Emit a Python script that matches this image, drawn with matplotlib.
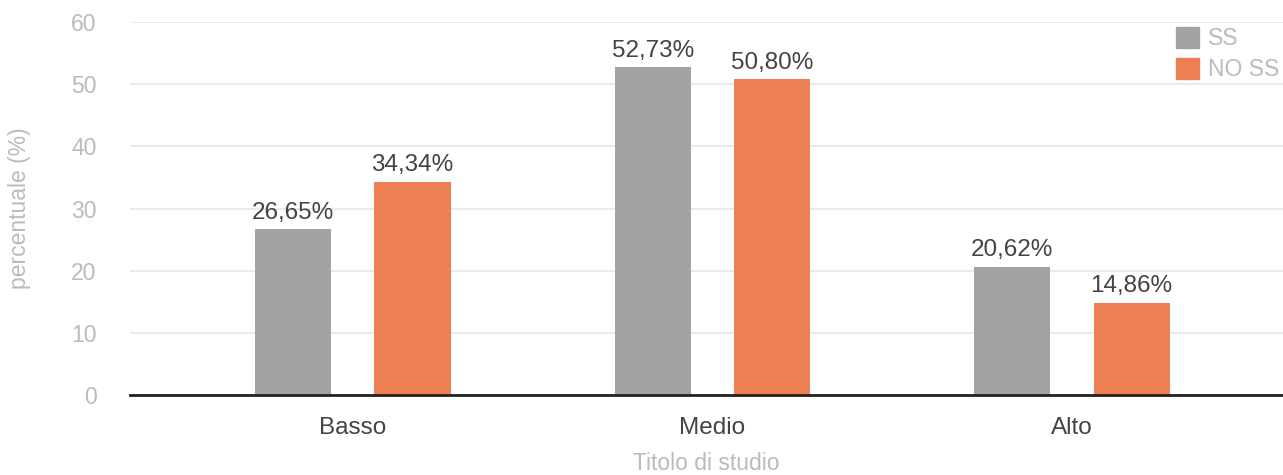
import matplotlib
matplotlib.use("Agg")
import matplotlib.pyplot as plt
import numpy as np
from matplotlib.patches import Patch

categories = ["Basso", "Medio", "Alto"]
series_names = ["SS", "NO SS"]
ss_values = [26.65, 52.73, 20.62]
noss_values = [34.34, 50.80, 14.86]
yticks = [0, 10, 20, 30, 40, 50, 60]

colors = ["#A3A3A3", "#EE7F52"]
plt.rcParams['font.family'] = ['Liberation Sans', 'DejaVu Sans']

W, H = 1283, 475
fig = plt.figure(figsize=(W/100, H/100), dpi=100)
ax = fig.add_axes([130/W, 1-395/H, (1283-130)/W, (395-22)/H])

x = np.arange(len(categories))
bw = 0.212
off = 0.166
b1 = ax.bar(x - off, ss_values, bw, color=colors[0], zorder=3)
b2 = ax.bar(x + off, noss_values, bw, color=colors[1], zorder=3)

for bars, vals in ((b1, ss_values), (b2, noss_values)):
    for r, v in zip(bars, vals):
        ax.annotate(f"{v:.2f}%".replace(".", ","), (r.get_x() + r.get_width()/2, v),
                    xytext=(0, 4), textcoords="offset points", ha="center", va="bottom",
                    fontsize=17.5, color="#444444", zorder=4)

ax.set_xlim(-0.62, 2.587)
ax.set_ylim(0, 60)
ax.set_yticks(yticks)
ax.set_xticks(x)
ax.set_xticklabels(categories, fontsize=17.5, color="#444444")
ax.tick_params(axis='x', length=0, pad=16)
ax.tick_params(axis='y', length=0, pad=24, labelsize=16.5, labelcolor="#BBBBBB")
for lbl in ax.get_yticklabels():
    lbl.set_horizontalalignment('right')
ax.grid(axis='y', color="#E8E8E8", linewidth=1.2, zorder=0)
for s in ["top", "right", "left"]:
    ax.spines[s].set_visible(False)
ax.spines["bottom"].set_color("#222222")
ax.spines["bottom"].set_linewidth(2)
ax.spines["bottom"].set_zorder(5)

fig.text(706/W, 1-464/H, "Titolo di studio", fontsize=16.5, color="#BBBBBB",
         ha="center", va="center")
fig.text(20/W, 1-208/H, "percentuale (%)", rotation=90, fontsize=16.5, color="#BBBBBB",
         ha="center", va="center")

handles = [Patch(color=c, label=n) for c, n in zip(colors, series_names)]
leg = ax.legend(handles=handles, loc="upper left", bbox_to_anchor=(1176/W, 1-27/H),
                bbox_transform=fig.transFigure, frameon=False, fontsize=16.5,
                handlelength=1.0, handleheight=1.0, handletextpad=0.4, labelspacing=0.35,
                borderaxespad=0, borderpad=0)
for t in leg.get_texts():
    t.set_color("#BBBBBB")

fig.savefig("out.png", dpi=100)
